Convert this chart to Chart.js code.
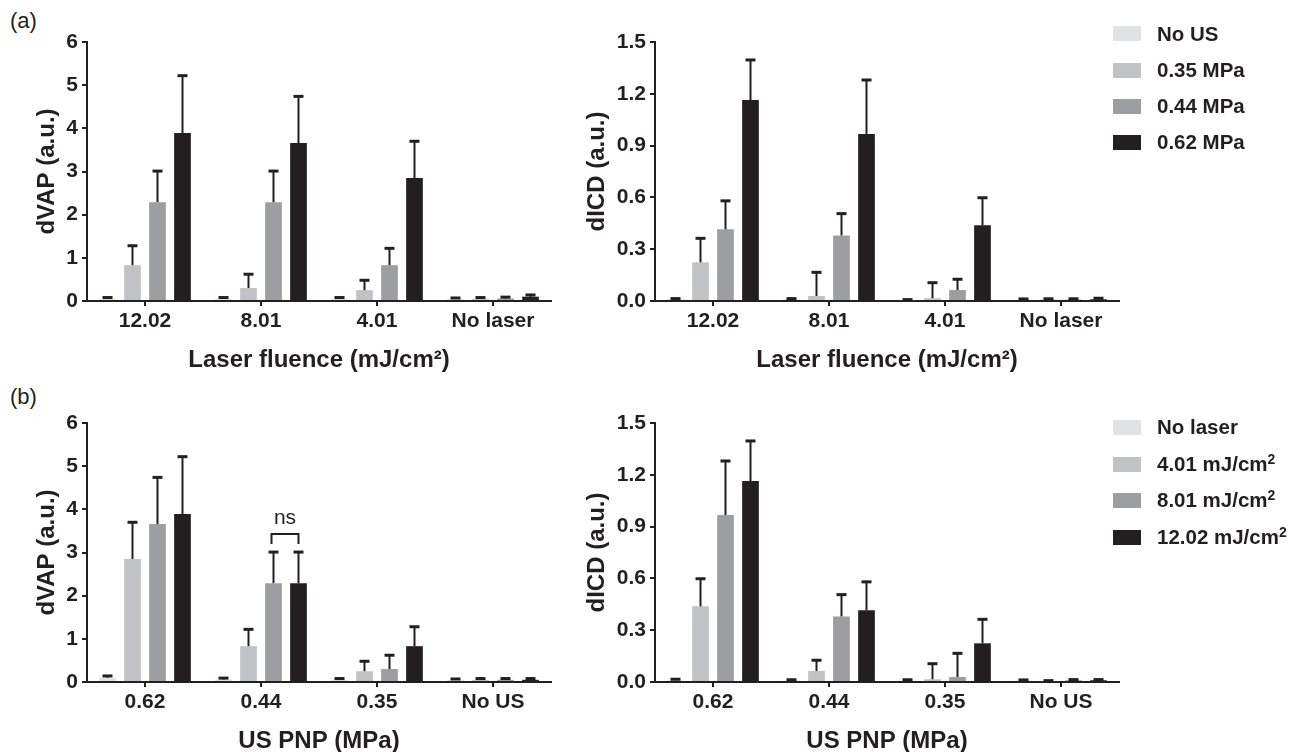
<!DOCTYPE html>
<html lang="en">
<head>
<meta charset="UTF-8">
<title>dVAP and dICD vs laser fluence and US pressure</title>
<style>
    body {
        margin: 0;
        width: 1289px;
        height: 752px;
        overflow: hidden;
        position: relative;
        background: #fff;
        color: #231f20;
        font-family: "Liberation Sans", Arial, sans-serif;
    }
    canvas { position: absolute; }
    .tag { position: absolute; left: 10px; font-size: 22px; line-height: 22px; }
    .legend { position: absolute; left: 1113px; font-size: 20.5px; font-weight: bold; }
    .legend .row { position: absolute; left: 0; height: 22px; line-height: 22px; white-space: nowrap; }
    .legend .sw { position: absolute; left: 0; top: 3.5px; width: 28px; height: 15px; }
    .legend .txt { position: absolute; left: 44px; top: 0; }
    .legend sup { font-size: 0.68em; line-height: 0; vertical-align: 0.5em; }
</style>
<script src="https://cdn.jsdelivr.net/npm/chart.js"></script>
</head>
<body>
<div class="tag" style="top:10px">(a)</div>
<div class="tag" style="top:386px">(b)</div>

<canvas id="vapLaser" width="560" height="380" style="left:0;top:0"></canvas>
<canvas id="icdLaser" width="580" height="380" style="left:560px;top:0"></canvas>
<canvas id="vapUS" width="560" height="380" style="left:0;top:381px"></canvas>
<canvas id="icdUS" width="580" height="380" style="left:560px;top:381px"></canvas>

<div class="legend" id="legendTop" style="top:0"></div>
<div class="legend" id="legendBottom" style="top:0"></div>

<script>
const ink = '#231f20';
const fontFam = '"Liberation Sans", Arial, sans-serif';

const laserLabels = ['12.02', '8.01', '4.01', 'No laser'];
const usLabels = ['0.62', '0.44', '0.35', 'No US'];
const usSeries = ['No US', '0.35 MPa', '0.44 MPa', '0.62 MPa'];
const laserSeries = ['No laser', '4.01 mJ/cm<sup>2</sup>', '8.01 mJ/cm<sup>2</sup>', '12.02 mJ/cm<sup>2</sup>'];
const greys = ['#e1e2e4', '#c1c2c5', '#9d9ea2', '#231f20'];

const vapTicks = [0, 1, 2, 3, 4, 5, 6];
const icdTicks = [0, 0.3, 0.6, 0.9, 1.2, 1.5];

// dVAP mean and upper SD, one array per US pressure, ordered like laserLabels
const vapNoUS = [0.05, 0.05, 0.05, 0.05];
const vap035 = [0.83, 0.30, 0.25, 0.05];
const vap044 = [2.29, 2.29, 0.83, 0.06];
const vap062 = [3.89, 3.66, 2.85, 0.10];
const vapErrNoUS = [0.03, 0.03, 0.03, 0.02];
const vapErr035 = [0.45, 0.32, 0.23, 0.03];
const vapErr044 = [0.72, 0.72, 0.39, 0.03];
const vapErr062 = [1.33, 1.08, 0.85, 0.04];

// dICD mean and upper SD
const icdNoUS = [0.010, 0.010, 0.005, 0.008];
const icd035 = [0.224, 0.029, 0.016, 0.008];
const icd044 = [0.415, 0.380, 0.064, 0.008];
const icd062 = [1.164, 0.967, 0.438, 0.010];
const icdErrNoUS = [0.004, 0.004, 0.003, 0.004];
const icdErr035 = [0.139, 0.137, 0.090, 0.005];
const icdErr044 = [0.165, 0.126, 0.062, 0.005];
const icdErr062 = [0.232, 0.313, 0.160, 0.006];

// bottom row uses the same numbers, regrouped by US pressure
const usOrder = [3, 2, 1, 0];       // 0.62, 0.44, 0.35, No US  -> index in usSeries
const laserOrder = [3, 2, 1, 0];    // No laser, 4.01, 8.01, 12.02 -> index in laserLabels

function topSets(vals, errs) {
    return usSeries.map((name, k) => ({
        label: name, data: vals[k], errorBars: errs[k], backgroundColor: greys[k]
    }));
}
function bottomSets(vals, errs) {
    return laserSeries.map((name, k) => ({
        label: name,
        data: usOrder.map(u => vals[u][laserOrder[k]]),
        errorBars: usOrder.map(u => errs[u][laserOrder[k]]),
        backgroundColor: greys[k]
    }));
}

const errorBarPlugin = {
    id: 'errorBars',
    afterDatasetsDraw(chart) {
        const ctx = chart.ctx;
        const y = chart.scales.y;
        ctx.save();
        ctx.strokeStyle = ink;
        chart.data.datasets.forEach((ds, di) => {
            const meta = chart.getDatasetMeta(di);
            meta.data.forEach((bar, i) => {
                const top = y.getPixelForValue(ds.data[i] + ds.errorBars[i]);
                ctx.lineWidth = 2;
                ctx.beginPath();
                ctx.moveTo(bar.x, bar.y);
                ctx.lineTo(bar.x, top);
                ctx.stroke();
                ctx.lineWidth = 3;
                ctx.beginPath();
                ctx.moveTo(bar.x - 5, top);
                ctx.lineTo(bar.x + 5, top);
                ctx.stroke();
            });
        });
        ctx.restore();
    }
};

const bracketPlugin = {
    id: 'bracket',
    afterDatasetsDraw(chart, args, opts) {
        if (!opts || !opts.text) return;
        const ctx = chart.ctx;
        const xa = chart.getDatasetMeta(opts.from).data[opts.index].x - 2;
        const xb = chart.getDatasetMeta(opts.to).data[opts.index].x;
        const yy = chart.scales.y.getPixelForValue(opts.value);
        ctx.save();
        ctx.strokeStyle = ink;
        ctx.lineWidth = 2;
        ctx.beginPath();
        ctx.moveTo(xa, yy + 10);
        ctx.lineTo(xa, yy);
        ctx.lineTo(xb, yy);
        ctx.lineTo(xb, yy + 10);
        ctx.stroke();
        ctx.fillStyle = ink;
        ctx.font = '21px ' + fontFam;
        ctx.textAlign = 'center';
        ctx.textBaseline = 'alphabetic';
        ctx.fillText(opts.text, (xa + xb) / 2, yy - 10);
        ctx.restore();
    }
};

function makeChart(id, labels, datasets, o) {
    return new Chart(document.getElementById(id), {
        type: 'bar',
        data: { labels: labels, datasets: datasets },
        plugins: [errorBarPlugin, bracketPlugin],
        options: {
            responsive: false,
            animation: false,
            layout: { padding: { left: 0, right: o.padRight, top: 42, bottom: 0 } },
            datasets: { bar: { barPercentage: 0.668, categoryPercentage: 0.862, borderWidth: 0 } },
            plugins: {
                legend: { display: false },
                tooltip: { enabled: false },
                bracket: o.bracket || {}
            },
            scales: {
                x: {
                    offset: true,
                    grid: { drawOnChartArea: false, drawTicks: true, tickLength: 5, offset: false, color: ink, lineWidth: 2 },
                    border: { display: true, color: ink, width: 2 },
                    ticks: { color: ink, padding: 3, maxRotation: 0, autoSkip: false,
                             font: { family: fontFam, size: 21, weight: 'bold' } },
                    title: { display: true, text: o.xTitle, color: ink, padding: { top: 0, bottom: 5 },
                             font: { family: fontFam, size: 24, weight: 'bold' } },
                    afterFit: s => { s.height = 79; }
                },
                y: {
                    min: 0,
                    max: o.ticks[o.ticks.length - 1],
                    afterBuildTicks: s => { s.ticks = o.ticks.map(v => ({ value: v })); },
                    grid: { drawOnChartArea: false, drawTicks: true, tickLength: 5, color: ink, lineWidth: 2 },
                    border: { display: true, color: ink, width: 2 },
                    ticks: { color: ink, padding: 4, callback: v => v.toFixed(o.dec),
                             font: { family: fontFam, size: 21, weight: 'bold' } },
                    title: { display: true, text: o.yTitle, color: ink, padding: { top: o.yTitlePad, bottom: 0 },
                             font: { family: fontFam, size: 24, weight: 'bold' } },
                    afterFit: s => { s.width = o.yWidth; }
                }
            }
        }
    });
}

const vapAll = [vapNoUS, vap035, vap044, vap062];
const vapErrAll = [vapErrNoUS, vapErr035, vapErr044, vapErr062];
const icdAll = [icdNoUS, icd035, icd044, icd062];
const icdErrAll = [icdErrNoUS, icdErr035, icdErr044, icdErr062];

makeChart('vapLaser', laserLabels, topSets(vapAll, vapErrAll),
    { ticks: vapTicks, dec: 0, yTitle: 'dVAP (a.u.)', xTitle: 'Laser fluence (mJ/cm²)', yWidth: 87, yTitlePad: 33, padRight: 9 });
makeChart('icdLaser', laserLabels, topSets(icdAll, icdErrAll),
    { ticks: icdTicks, dec: 1, yTitle: 'dICD (a.u.)', xTitle: 'Laser fluence (mJ/cm²)', yWidth: 95, yTitlePad: 23, padRight: 21 });
makeChart('vapUS', usLabels, bottomSets(vapAll, vapErrAll),
    { ticks: vapTicks, dec: 0, yTitle: 'dVAP (a.u.)', xTitle: 'US PNP (MPa)', yWidth: 87, yTitlePad: 33, padRight: 9,
      bracket: { from: 2, to: 3, index: 1, value: 3.43, text: 'ns' } });
makeChart('icdUS', usLabels, bottomSets(icdAll, icdErrAll),
    { ticks: icdTicks, dec: 1, yTitle: 'dICD (a.u.)', xTitle: 'US PNP (MPa)', yWidth: 95, yTitlePad: 23, padRight: 21 });

function buildLegend(id, names, centers) {
    const box = document.getElementById(id);
    names.forEach((n, k) => {
        const row = document.createElement('div');
        row.className = 'row';
        row.style.top = (centers[k] - 11) + 'px';
        row.innerHTML = '<span class="sw" style="background:' + greys[k] + '"></span><span class="txt">' + n + '</span>';
        box.appendChild(row);
    });
}
buildLegend('legendTop', usSeries, [33.5, 70, 106, 142]);
buildLegend('legendBottom', laserSeries, [427, 464, 500, 537]);
</script>
</body>
</html>
